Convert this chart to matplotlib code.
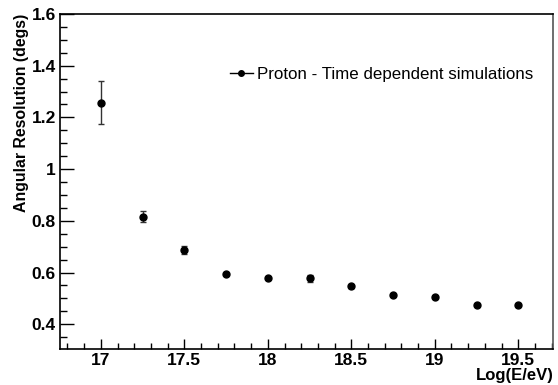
import numpy as np
import matplotlib.pyplot as plt
from matplotlib.lines import Line2D
from matplotlib.ticker import MultipleLocator

# ---------------- DATA ----------------
log_e = [17.0, 17.25, 17.5, 17.75, 18.0, 18.25, 18.5, 18.75, 19.0, 19.25, 19.5]
resolution = [1.257, 0.816, 0.687, 0.596, 0.580, 0.578, 0.546, 0.512, 0.507, 0.475, 0.476]
res_err = [0.082, 0.022, 0.015, 0.004, 0.004, 0.013, 0.004, 0.004, 0.004, 0.004, 0.004]
series_label = "Proton - Time dependent simulations"

plt.rcParams["font.family"] = ["Liberation Sans", "DejaVu Sans"]

fig = plt.figure(figsize=(5.58, 3.85), dpi=100)
ax = fig.add_axes([0.1075, 0.0927, 0.9916 - 0.1075, 0.9636 - 0.0927])

ax.errorbar(
    log_e, resolution, yerr=res_err,
    fmt="o", color="black", markersize=5,
    elinewidth=1.0, ecolor="#333333", capsize=2, capthick=1.0,
)

ax.set_xlim(16.755, 19.71)
ax.set_ylim(0.303, 1.6)

ax.xaxis.set_major_locator(MultipleLocator(0.5))
ax.xaxis.set_minor_locator(MultipleLocator(0.1))
ax.yaxis.set_major_locator(MultipleLocator(0.2))
ax.yaxis.set_minor_locator(MultipleLocator(0.05))
ax.xaxis.set_major_formatter(plt.FuncFormatter(lambda v, p: f"{v:g}"))
ax.yaxis.set_major_formatter(plt.FuncFormatter(lambda v, p: f"{v:g}"))

ax.tick_params(which="both", direction="in", top=False, right=False)
ax.tick_params(axis="y", which="major", length=10, width=1, pad=3, labelsize=12.5)
ax.tick_params(axis="y", which="minor", length=5, width=1)
ax.tick_params(axis="x", which="major", length=7.5, width=1, pad=3, labelsize=12.5)
ax.tick_params(axis="x", which="minor", length=4, width=1)
for lab in ax.get_xticklabels() + ax.get_yticklabels():
    lab.set_fontweight("bold")

for side in ["left", "bottom", "top"]:
    ax.spines[side].set_linewidth(1.2)
ax.spines["right"].set_linewidth(1.2)
ax.spines["right"].set_color("#555555")

ax.set_ylabel("Angular Resolution (degs)", fontsize=11.4, fontweight="bold", loc="top", labelpad=2)
ax.set_xlabel("Log(E/eV)", fontsize=12, fontweight="bold", loc="right", labelpad=0)

# легенда: линия с точкой
handle = Line2D([], [], color="black", marker="o", markersize=4, linewidth=1.0)
ax.legend(
    [handle], [series_label],
    loc="center left", bbox_to_anchor=(0.3446, 0.821), frameon=False,
    fontsize=12.2, handlelength=1.35, handletextpad=0.25, borderpad=0, borderaxespad=0,
)

fig.savefig("out.png", dpi=100)
